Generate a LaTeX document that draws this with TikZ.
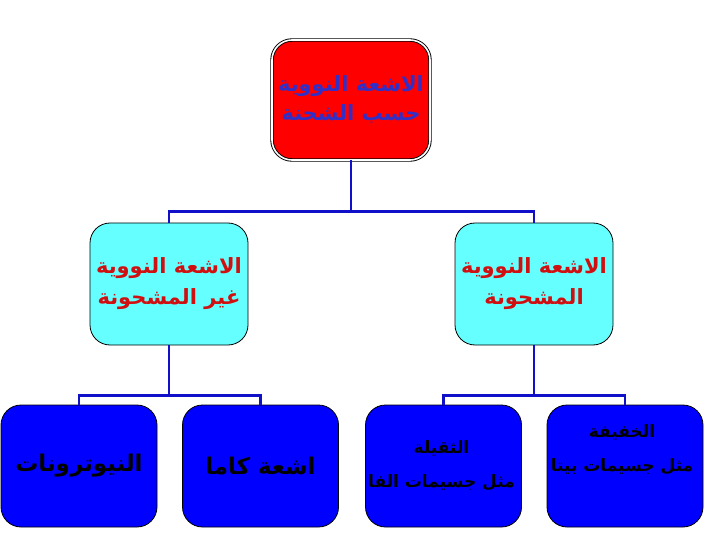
\documentclass[tikz,border=0pt]{standalone}
\usepackage{fontspec}
\newfontfamily\arabicfont[Script=Arabic]{DejaVu Sans}
\TeXXeTstate=1
\usepackage{tikz}
\usetikzlibrary{positioning,calc}
\definecolor{rootred}{HTML}{FF0000}
\definecolor{rootink}{HTML}{3030C8}
\definecolor{midcyan}{HTML}{66FFFF}
\definecolor{midink}{HTML}{D01010}
\definecolor{leafblue}{HTML}{0000FF}
\definecolor{linkblue}{HTML}{1010C8}

\begin{document}
\begin{tikzpicture}[
    x=1pt, y=-1pt,
    font=\arabicfont\bfseries,
    rootbox/.style={draw=black, double=white, double distance=1.6pt, line width=0.9pt, fill=rootred, rounded corners=20pt, minimum width=158pt, minimum height=120pt, align=center, text=rootink, font=\arabicfont\bfseries\fontsize{21}{29}\selectfont},
    midbox/.style={draw=black, line width=0.8pt, fill=midcyan, rounded corners=20pt, minimum width=158pt, minimum height=122pt, align=center, text=midink, font=\arabicfont\bfseries\fontsize{21}{31}\selectfont},
    leafbox/.style={draw=black, line width=0.8pt, fill=leafblue, rounded corners=20pt, minimum width=156pt, minimum height=122pt, align=center, text=black, font=\arabicfont\bfseries\fontsize{23}{34}\selectfont},
    leaftext/.style={align=center, text=black, inner sep=0pt, font=\arabicfont\bfseries\fontsize{17}{34}\selectfont},
    link/.style={draw=linkblue, line width=2.2pt}
]
\useasboundingbox (0,0) rectangle (720,540);

% root
\node[rootbox] (root) at (351,100) {\beginR الاشعة النووية\endR\\\beginR حسب الشحنة\endR};

% second level
\node[midbox] (uncharged) at (169,284) {\beginR الاشعة النووية\endR\\\beginR غير المشحونة\endR};
\node[midbox] (charged) at (534,284) {\beginR الاشعة النووية\endR\\\beginR المشحونة\endR};

% leaves
\node[leafbox] (neutrons) at (79,466) {\beginR النيوترونات\endR};
\node[leafbox] (gamma) at (260.5,466) {\beginR اشعة كاما\endR};
\node[leafbox] (heavy) at (443.5,466) {};
\node[leafbox] (light) at (625,466) {};

\begin{scope}
  \clip[rounded corners=20pt] (heavy.north west) rectangle (heavy.south east);
  \node[leaftext] (heavytxt) at ([xshift=-2pt]heavy.center) {\beginR الثقيلة\endR\\\beginR مثل جسيمات الفا\endR};
\end{scope}
\begin{scope}
  \clip[rounded corners=20pt] (light.north west) rectangle (light.south east);
  \node[leaftext] (lighttxt) at ([xshift=-3pt, yshift=16pt]light.center) {\beginR الخفيفة\endR\\\beginR مثل جسيمات بيتا\endR};
\end{scope}

% connectors
\draw[link] (root.south) -- ++(0,51) coordinate (rootjoin);
\draw[link] (uncharged.south) -- ++(0,50) coordinate (unjoin);
\draw[link] (charged.south) -- ++(0,50) coordinate (chjoin);
\foreach \j/\n in {rootjoin/uncharged, rootjoin/charged, unjoin/neutrons, unjoin/gamma, chjoin/heavy, chjoin/light}
  \draw[link] (\j) -| (\n.north);
\end{tikzpicture}
\end{document}
